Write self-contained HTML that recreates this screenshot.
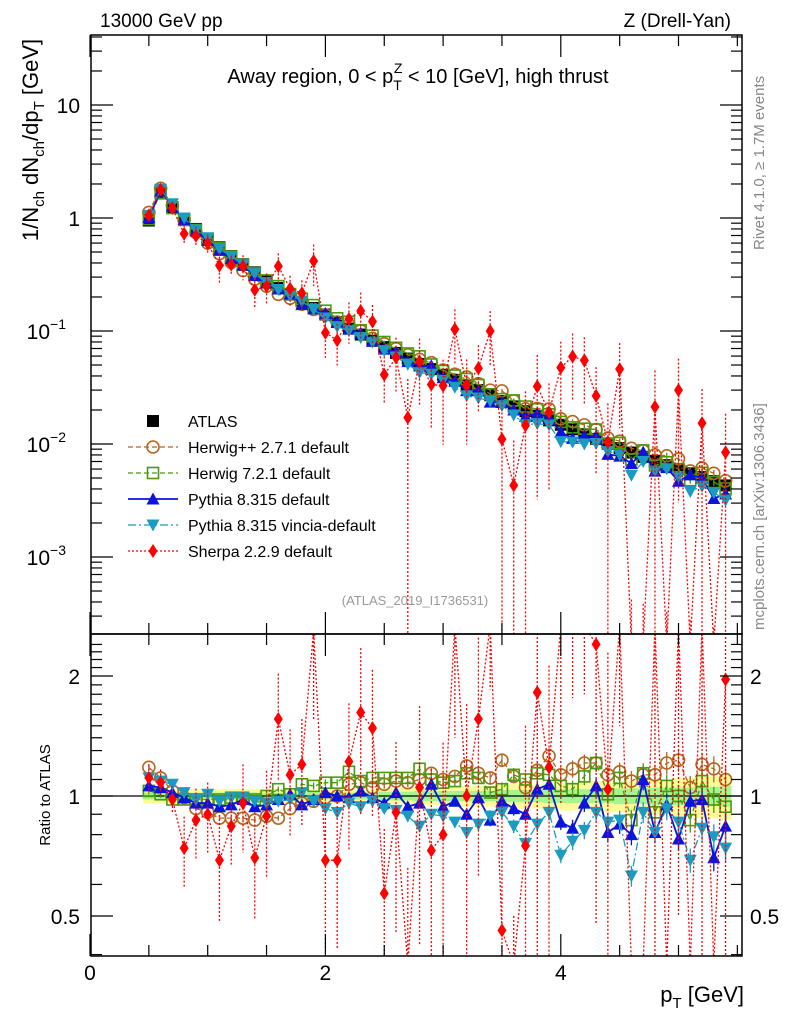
<!DOCTYPE html>
<html><head><meta charset="utf-8"><style>
html,body{margin:0;padding:0;background:#fff;overflow:hidden;width:786px;height:1024px;}
svg{display:block;font-family:"Liberation Sans",Arial,sans-serif;}
</style></head><body>
<svg id="chart" width="786" height="1024" viewBox="0 0 786 1024" xmlns="http://www.w3.org/2000/svg">
<defs>
<clipPath id="clipMain"><rect x="91" y="35" width="651" height="599"/></clipPath>
<clipPath id="clipRatio"><rect x="91" y="634" width="651" height="322"/></clipPath>
</defs>
<rect x="0" y="0" width="786" height="1024" fill="#fff"/>
<g id="bands" clip-path="url(#clipRatio)"></g>
<g id="mainMarks" clip-path="url(#clipMain)"></g>
<g id="ratioMarks" clip-path="url(#clipRatio)"></g>
<g id="axes"></g>
<text x="100" y="27" font-size="19">13000 GeV pp</text>
<text x="731" y="27" font-size="19" text-anchor="end">Z (Drell-Yan)</text>
<text x="418" y="83" font-size="20" text-anchor="middle">Away region, 0 &lt; p<tspan font-size="14" dy="7">T</tspan><tspan font-size="14" dx="-8" dy="-17">Z</tspan><tspan dy="10"> &lt; 10 [GeV], high thrust</tspan></text>
<text transform="translate(38,140) rotate(-90)" font-size="22" text-anchor="middle">1/N<tspan font-size="15" dy="6">ch</tspan><tspan dy="-6"> dN</tspan><tspan font-size="15" dy="6">ch</tspan><tspan dy="-6">/dp</tspan><tspan font-size="15" dy="6">T</tspan><tspan dy="-6"> [GeV]</tspan></text>
<text transform="translate(764,250) rotate(-90)" font-size="15" fill="#888">Rivet 4.1.0, ≥ 1.7M events</text>
<text transform="translate(764,630) rotate(-90)" font-size="15" fill="#888">mcplots.cern.ch [arXiv:1306.3436]</text>
<text x="415" y="605" font-size="13" fill="#999" text-anchor="middle">(ATLAS_2019_I1736531)</text>
<text transform="translate(50,795) rotate(-90)" font-size="15" text-anchor="middle">Ratio to ATLAS</text>
<text x="744" y="1002" font-size="22" text-anchor="end">p<tspan font-size="15" dy="6">T</tspan><tspan dy="-6"> [GeV]</tspan></text>
<g id="legend"></g>
</svg>
<script>
const xVals=[0.5,0.6,0.7,0.8,0.9,1.0,1.1,1.2,1.3,1.4,1.5,1.6,1.7,1.8,1.9,2.0,2.1,2.2,2.3,2.4,2.5,2.6,2.7,2.8,2.9,3.0,3.1,3.2,3.3,3.4,3.5,3.6,3.7,3.8,3.9,4.0,4.1,4.2,4.3,4.4,4.5,4.6,4.7,4.8,4.9,5.0,5.1,5.2,5.3,5.4];
const atlas=[0.95,1.65,1.25,0.98,0.80,0.66,0.55,0.46,0.39,0.33,0.28,0.24,0.21,0.18,0.16,0.14,0.12,0.105,0.093,0.082,0.072,0.064,0.057,0.051,0.046,0.041,0.037,0.033,0.030,0.027,0.024,0.0215,0.0195,0.0178,0.0162,0.0148,0.0135,0.0122,0.0111,0.0100,0.0092,0.0084,0.0077,0.0071,0.0065,0.0060,0.0055,0.0051,0.0047,0.0043];
const bandTot=[0.04,0.04,0.04,0.04,0.04,0.04,0.04,0.04,0.04,0.04,0.04,0.04,0.04,0.04,0.04,0.04,0.04,0.04,0.04,0.04,0.045,0.045,0.05,0.05,0.05,0.05,0.06,0.06,0.06,0.06,0.07,0.07,0.07,0.07,0.08,0.08,0.08,0.08,0.09,0.09,0.09,0.09,0.10,0.10,0.10,0.11,0.11,0.12,0.12,0.13];
const bandStat=[0.02,0.02,0.02,0.02,0.02,0.02,0.02,0.02,0.02,0.02,0.02,0.02,0.02,0.02,0.02,0.02,0.02,0.02,0.02,0.02,0.025,0.025,0.025,0.03,0.03,0.03,0.03,0.03,0.03,0.03,0.035,0.035,0.035,0.035,0.04,0.04,0.04,0.04,0.04,0.04,0.045,0.045,0.045,0.05,0.05,0.05,0.05,0.055,0.055,0.06];
const rHpp=[1.18,1.11,1.03,0.99,0.93,0.91,0.88,0.88,0.88,0.87,0.89,0.88,0.93,0.96,0.97,0.99,1.0,1.07,1.08,1.05,1.07,1.09,1.08,1.10,1.14,1.10,1.12,1.19,1.14,1.11,1.23,1.12,1.05,1.16,1.26,1.13,1.17,1.21,1.21,1.13,1.15,1.09,1.13,1.13,1.21,1.23,1.05,1.20,1.17,1.10];
const rH7=[1.03,1.01,0.98,0.98,0.98,0.98,0.98,0.99,0.99,0.98,1.0,1.04,1.01,1.07,1.06,1.08,1.08,1.15,1.09,1.11,1.11,1.11,1.11,1.17,1.10,1.08,1.09,1.14,1.11,1.02,1.04,1.13,1.10,1.14,1.13,1.06,1.04,1.12,1.21,1.01,1.11,0.87,1.14,0.91,1.06,1.0,0.87,1.09,0.98,0.94];
const rPy=[1.06,1.05,1.02,0.99,0.96,0.96,0.94,0.95,0.98,0.94,0.95,0.98,1.01,0.95,0.98,1.02,1.0,0.99,1.03,0.99,0.96,1.02,0.94,0.96,1.07,0.94,0.97,0.90,0.99,0.87,0.97,0.93,0.90,1.04,1.07,0.86,0.83,0.96,1.06,0.81,0.85,0.80,1.10,0.81,0.95,0.78,0.97,0.98,0.70,0.84];
const rVi=[1.11,1.09,1.07,1.02,0.98,1.01,0.97,0.99,0.99,0.97,0.96,0.97,0.98,1.02,0.97,0.93,0.91,0.96,0.94,0.97,0.93,0.92,0.89,0.84,0.90,0.89,0.86,0.81,0.85,0.89,0.91,0.84,0.76,0.85,0.91,0.71,0.77,0.82,0.91,0.86,0.87,0.63,0.91,0.81,0.93,0.86,0.69,0.83,0.79,0.74];
const rSh=[1.11,1.08,0.98,0.74,0.87,0.90,0.69,0.84,0.96,0.70,0.89,1.56,1.13,1.20,2.6,0.69,0.69,1.22,1.62,1.48,0.57,0.91,0.3,1.05,0.73,0.80,2.8,1.0,1.56,3.7,0.46,0.2,0.75,1.82,1.18,3.2,4.4,4.5,2.4,1.04,5,0.02,0.02,3,0.02,5,0.02,3,0.02,1.96];
const shErr=[0.08,0.08,0.08,0.2,0.2,0.2,0.3,0.2,0.25,0.3,0.3,0.3,0.3,0.3,0.4,0.4,0.4,0.4,0.45,0.4,0.45,0.5,1.2,0.6,0.6,0.7,0.5,0.7,0.6,0.5,1.2,1.5,1.0,0.9,0.8,0.7,0.6,0.6,0.8,1.2,0.7,1.5,1.5,1.1,1.5,0.9,1.5,1.0,1.5,1.2];
const mcErr=[0.02,0.02,0.015,0.015,0.015,0.015,0.015,0.015,0.015,0.015,0.015,0.015,0.015,0.02,0.02,0.02,0.02,0.02,0.02,0.02,0.025,0.025,0.025,0.03,0.03,0.03,0.03,0.035,0.035,0.035,0.04,0.04,0.04,0.045,0.045,0.045,0.05,0.05,0.05,0.055,0.055,0.06,0.06,0.06,0.065,0.065,0.07,0.07,0.075,0.08];
const xTicks=[0,2,4];
const ratioTicks=[0.5,1,2];

const NS="http://www.w3.org/2000/svg";
const X=v=>90+v*117.7;
const YM=v=>218-Math.log10(v)*113;
const YR=v=>796-Math.log2(v)*120;
const cl=(y,a,b)=>Math.max(a,Math.min(b,y));
function el(tag,attrs,parent){const e=document.createElementNS(NS,tag);for(const k in attrs)e.setAttribute(k,attrs[k]);parent.appendChild(e);return e;}
const mainG=document.getElementById('mainMarks'),ratioG=document.getElementById('ratioMarks'),bandG=document.getElementById('bands'),axG=document.getElementById('axes'),legG=document.getElementById('legend');

function marker(type,cx,cy,col,g){
  let m;
  if(type==='sq'){m=el('rect',{x:cx-6,y:cy-6,width:12,height:12,fill:'#000'},g);}
  else if(type==='osq'){m=el('rect',{x:cx-5.5,y:cy-5.5,width:11,height:11,fill:'none',stroke:col,'stroke-width':1.6},g);}
  else if(type==='oc'){m=el('circle',{cx:cx,cy:cy,r:6,fill:'none',stroke:col,'stroke-width':1.6},g);}
  else if(type==='tu'){m=el('polygon',{points:`${cx-6.5},${cy+5.5} ${cx+6.5},${cy+5.5} ${cx},${cy-6.5}`,fill:col},g);}
  else if(type==='td'){m=el('polygon',{points:`${cx-6.5},${cy-5.5} ${cx+6.5},${cy-5.5} ${cx},${cy+6.5}`,fill:col},g);}
  else if(type==='dia'){m=el('polygon',{points:`${cx},${cy-7} ${cx+4.5},${cy} ${cx},${cy+7} ${cx-4.5},${cy}`,fill:col},g);}
  return m;
}

for(let i=0;i<xVals.length;i++){
  const x0=X(xVals[i]-0.05),x1=X(xVals[i]+0.05);
  const b=el('rect',{x:x0,y:YR(1+bandTot[i]),width:x1-x0,height:YR(1-bandTot[i])-YR(1+bandTot[i]),fill:'#fbfb9a'},bandG);
  
  
  const s=el('rect',{x:x0,y:YR(1+bandStat[i]),width:x1-x0,height:YR(1-bandStat[i])-YR(1+bandStat[i]),fill:'#a4f58e'},bandG);
  
  
}
const refLine=el('line',{x1:91,x2:742,y1:YR(1),y2:YR(1),stroke:'#000','stroke-width':1.3},bandG);



for(let i=0;i<xVals.length;i++){
  const m=marker('sq',X(xVals[i]),YM(atlas[i]),'#000',mainG);
  
  
}

const series=[
 {name:'herwigpp',r:rHpp,col:'#b5651d',mk:'oc',dash:'5,3',err:mcErr},
 {name:'herwig7',r:rH7,col:'#4a9a10',mk:'osq',dash:'5,3',err:mcErr},
 {name:'pythia',r:rPy,col:'#0a14dc',mk:'tu',dash:'',err:mcErr},
 {name:'vincia',r:rVi,col:'#1b9bc0',mk:'td',dash:'8,3,2,3',err:mcErr},
 {name:'sherpa',r:rSh,col:'#ff0000',mk:'dia',dash:'2,2',err:shErr}
];
series.forEach(s=>{
  const sw=s.name==='pythia'?1.8:1.3;
  let ptsM=[],ptsR=[];
  for(let i=0;i<xVals.length;i++){
    const v=atlas[i]*s.r[i];
    ptsM.push(X(xVals[i])+','+cl(YM(v),20,645));
    ptsR.push(X(xVals[i])+','+cl(YR(s.r[i]),625,965));
  }
  const lm=el('polyline',{points:ptsM.join(' '),fill:'none',stroke:s.col,'stroke-width':sw,'stroke-dasharray':s.dash},mainG);
  
  
  const lr=el('polyline',{points:ptsR.join(' '),fill:'none',stroke:s.col,'stroke-width':sw,'stroke-dasharray':s.dash},ratioG);
  
  
  for(let i=0;i<xVals.length;i++){
    const cx=X(xVals[i]);
    const v=atlas[i]*s.r[i];
    const e=s.err[i];
    const loM=v*(1-e)>0?cl(YM(v*(1-e)),20,640):640, loR=s.r[i]*(1-e)>0?cl(YR(s.r[i]*(1-e)),625,960):960;
    const eb=el('line',{x1:cx,x2:cx,y1:cl(YM(v*(1+e)),20,640),y2:loM,stroke:s.col,'stroke-width':1.3,'stroke-dasharray':s.name==='sherpa'?'2,2':''},mainG);
    
    
    const er=el('line',{x1:cx,x2:cx,y1:cl(YR(s.r[i]*(1+e)),625,960),y2:loR,stroke:s.col,'stroke-width':1.3,'stroke-dasharray':s.name==='sherpa'?'2,2':''},ratioG);
    
    
    if(YM(v)<650){
      const m1=marker(s.mk,cx,YM(v),s.col,mainG);
      
      
    }
    if(YR(s.r[i])<970&&YR(s.r[i])>620){
      const m2=marker(s.mk,cx,YR(s.r[i]),s.col,ratioG);
      
      
    }
  }
});

const f1=el('rect',{x:91,y:35,width:651,height:599,fill:'none',stroke:'#000','stroke-width':1.5},axG);


const f2=el('rect',{x:91,y:634,width:651,height:322,fill:'none',stroke:'#000','stroke-width':1.5},axG);



for(let d=-4;d<=1;d++){
  for(let k=1;k<10;k++){
    const v=k*Math.pow(10,d);const y=YM(v);
    if(y<35||y>634)continue;
    const len=k===1?22:11;
    el('line',{x1:91,x2:91+len,y1:y,y2:y,stroke:'#000','stroke-width':1.2},axG);
    el('line',{x1:742,x2:742-len,y1:y,y2:y,stroke:'#000','stroke-width':1.2},axG);
  }
}
const mainLabels=[[10,'10',''],[1,'1',''],[0.1,'10','−1'],[0.01,'10','−2'],[0.001,'10','−3']];
mainLabels.forEach(l=>{
  const t=el('text',{x:l[2]?66:80,y:YM(l[0])+8,'font-size':21,'text-anchor':'end'},axG);
  t.textContent=l[1];
  
  
  if(l[2]){const s=el('tspan',{'font-size':14,dy:-10},t);s.textContent=l[2];}
});
for(let v=0;v<=5.5;v+=0.5){
  const x=X(v);const major=Math.abs(v-Math.round(v/2)*2)<1e-6;
  const len=major?22:11;
  [[35,1],[634,-1],[634,1],[956,-1]].forEach(p=>el('line',{x1:x,x2:x,y1:p[0],y2:p[0]+p[1]*len,stroke:'#000','stroke-width':1.2},axG));
}
xTicks.forEach(v=>{
  const t=el('text',{x:X(v),y:980,'font-size':21,'text-anchor':'middle'},axG);
  t.textContent=String(v);
  
  
});
for(let v=0.4;v<=2.5;v+=0.1){
  const y=YR(v);if(y<634||y>956)continue;
  const major=[0.5,1,2].some(m=>Math.abs(m-v)<1e-6);
  const len=major?22:11;
  el('line',{x1:91,x2:91+len,y1:y,y2:y,stroke:'#000','stroke-width':1.2},axG);
  el('line',{x1:742,x2:742-len,y1:y,y2:y,stroke:'#000','stroke-width':1.2},axG);
}
ratioTicks.forEach(v=>{
  const t=el('text',{x:80,y:YR(v)+8,'font-size':21,'text-anchor':'end'},axG);
  t.textContent=String(v);
  
  
  const t2=el('text',{x:750,y:YR(v)+8,'font-size':21},axG);
  t2.textContent=String(v);
  
  
});

const legItems=[['ATLAS','sq','#000','',1],['Herwig++ 2.7.1 default','oc','#b5651d','5,3',1.3],['Herwig 7.2.1 default','osq','#4a9a10','5,3',1.3],['Pythia 8.315 default','tu','#0a14dc','',1.8],['Pythia 8.315 vincia-default','td','#1b9bc0','8,3,2,3',1.3],['Sherpa 2.2.9 default','dia','#ff0000','2,2',1.3]];
legItems.forEach((it,i)=>{
  const y=421+i*26;
  if(i>0){const ln=el('line',{x1:128,x2:178,y1:y,y2:y,stroke:it[2],'stroke-width':it[4],'stroke-dasharray':it[3]},legG);
    
    }
  const m=marker(it[1],153,y,it[2],legG);
  
  
  const t=el('text',{x:188,y:y+6,'font-size':16},legG);
  t.textContent=it[0];
  
  
});
</script>
</body></html>
